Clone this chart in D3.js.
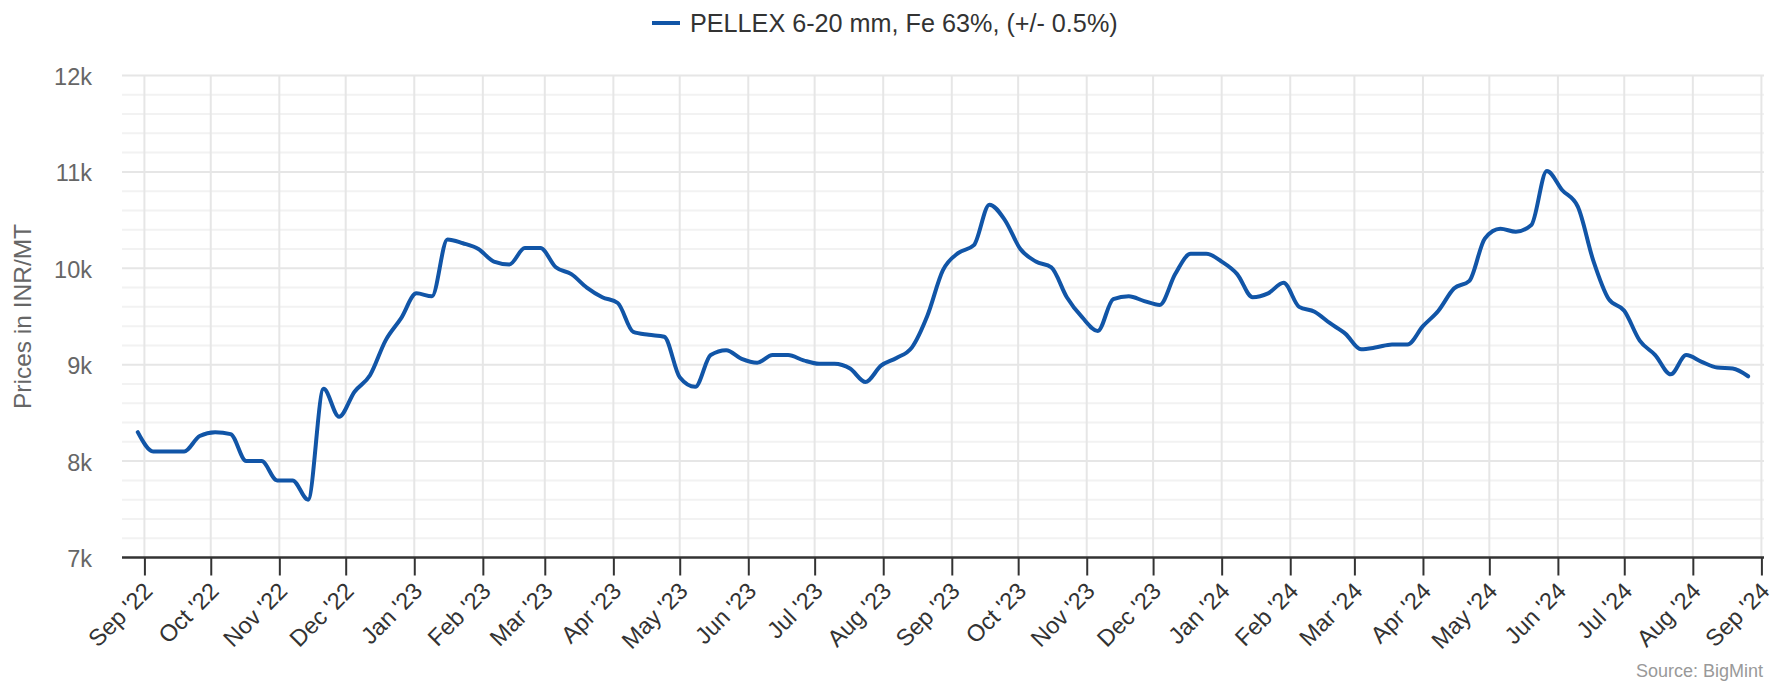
<!DOCTYPE html>
<html>
<head>
<meta charset="utf-8">
<script src="https://cdn.jsdelivr.net/npm/d3@7/dist/d3.min.js"></script>
<style>
  html, body { margin: 0; padding: 0; background: #ffffff; }
  svg { display: block; font-family: "Liberation Sans", Arial, sans-serif; }
</style>
</head>
<body>
<svg id="chart" width="1783" height="684"></svg>
<script>
// ---- data ----
const seriesName = "PELLEX 6-20 mm, Fe 63%, (+/- 0.5%)";
const firstWeek = "2022-08-29";   // weekly observations
const prices = [
  8300, 8100, 8100, 8100, 8260, 8300, 8280, 8000, 8000, 7800,
  7800, 7600, 8750, 8460, 8720, 8890, 9250, 9480, 9740, 9710,
  10300, 10260, 10200, 10070, 10040, 10210, 10210, 10010, 9940, 9800,
  9700, 9640, 9340, 9310, 9290, 8870, 8770, 9100, 9150, 9060,
  9020, 9100, 9100, 9045, 9010, 9010, 8960, 8820, 8990, 9070,
  9180, 9510, 9980, 10160, 10240, 10660, 10500, 10200, 10070, 10010,
  9700, 9490, 9350, 9680, 9710, 9660, 9620, 9940, 10150, 10150,
  10070, 9940, 9700, 9740, 9850, 9600, 9550, 9430, 9320, 9160,
  9180, 9210, 9210, 9400, 9560, 9790, 9870, 10310, 10410, 10380,
  10450, 11010, 10810, 10640, 10080, 9680, 9560, 9250, 9100, 8900,
  9100, 9030, 8970, 8960, 8880
];
const monthTicks = [
  "2022-09-01","2022-10-01","2022-11-01","2022-12-01","2023-01-01","2023-02-01",
  "2023-03-01","2023-04-01","2023-05-01","2023-06-01","2023-07-01","2023-08-01",
  "2023-09-01","2023-10-01","2023-11-01","2023-12-01","2024-01-01","2024-02-01",
  "2024-03-01","2024-04-01","2024-05-01","2024-06-01","2024-07-01","2024-08-01",
  "2024-09-01"
];
const yMajorTicks = [7000, 8000, 9000, 10000, 11000, 12000];
const yMinorStep = 200;
const yTitle = "Prices in INR/MT";
const sourceText = "Source: BigMint";

// ---- layout ----
const W = 1783, H = 684;
const plot = { left: 122, right: 1764, top: 75.5, bottom: 557.5 };
const lineColor = "#1155a7";

const svg = d3.select("#chart");
const parse = d3.utcParse("%Y-%m-%d");
const start = parse(firstWeek);
const data = prices.map((v, i) => ({ date: d3.utcDay.offset(start, 7 * i), value: v }));
const tickDates = monthTicks.map(parse);

// x scale: first and last month ticks anchored, then domain extended to the plot edges
const x = d3.scaleUtc()
  .domain([tickDates[0], tickDates[tickDates.length - 1]])
  .range([144.4, 1761.4]);
x.domain([x.invert(plot.left), x.invert(plot.right)]).range([plot.left, plot.right]);

const y = d3.scaleLinear().domain([7000, 12000]).range([plot.bottom, plot.top]);

// minor horizontal grid
const minor = d3.range(7000, 12000 + 1, yMinorStep).filter(v => !yMajorTicks.includes(v));
svg.append("g").selectAll("line").data(minor).join("line")
  .attr("x1", plot.left).attr("x2", plot.right)
  .attr("y1", d => y(d)).attr("y2", d => y(d))
  .attr("stroke", "#f2f2f2").attr("stroke-width", 2);

// major horizontal grid
svg.append("g").selectAll("line").data(yMajorTicks.filter(v => v !== 7000)).join("line")
  .attr("x1", plot.left).attr("x2", plot.right)
  .attr("y1", d => y(d)).attr("y2", d => y(d))
  .attr("stroke", "#e6e6e6").attr("stroke-width", 2);

// vertical grid
svg.append("g").selectAll("line").data(tickDates).join("line")
  .attr("x1", d => x(d)).attr("x2", d => x(d))
  .attr("y1", plot.top).attr("y2", plot.bottom)
  .attr("stroke", "#e6e6e6").attr("stroke-width", 2);

// y axis labels
const yAxis = d3.axisLeft(y).tickValues(yMajorTicks).tickSize(0).tickPadding(0)
  .tickFormat(d => (d / 1000) + "k");
const gy = svg.append("g").attr("transform", `translate(92,0)`).call(yAxis);
gy.select(".domain").remove();
gy.selectAll("text")
  .attr("font-size", 23.5).attr("fill", "#666666")
  .attr("font-family", "'Liberation Sans', Arial, sans-serif")
  .attr("dy", "0.38em");

// y title
svg.append("text")
  .attr("transform", `translate(31,${(plot.top + plot.bottom) / 2}) rotate(-90)`)
  .attr("text-anchor", "middle")
  .attr("font-size", 24.5).attr("fill", "#666666")
  .text(yTitle);

// x axis
const xAxis = d3.axisBottom(x).tickValues(tickDates).tickSize(18).tickSizeOuter(0)
  .tickFormat(d3.utcFormat("%b '%y"));
const gx = svg.append("g").attr("transform", `translate(0,${plot.bottom})`).call(xAxis);
gx.select(".domain").attr("stroke", "#333333").attr("stroke-width", 2.5)
  .attr("d", `M${plot.left},0H${plot.right}`);
gx.selectAll(".tick line").attr("stroke", "#333333").attr("stroke-width", 2);
gx.selectAll(".tick text")
  .attr("font-size", 23.5).attr("fill", "#333333")
  .attr("font-family", "'Liberation Sans', Arial, sans-serif")
  .attr("text-anchor", "end")
  .attr("y", 0).attr("dy", 0)
  .attr("transform", "translate(9,35) rotate(-45)");

// series line
const line = d3.line()
  .x(d => x(d.date)).y(d => y(d.value))
  .curve(d3.curveMonotoneX);
svg.append("path").datum(data)
  .attr("d", line)
  .attr("fill", "none")
  .attr("stroke", lineColor)
  .attr("stroke-width", 4)
  .attr("stroke-linejoin", "round")
  .attr("stroke-linecap", "round");

// legend
const lg = svg.append("g").attr("transform", "translate(652,23)");
lg.append("line").attr("x1", 0).attr("x2", 28).attr("y1", 0).attr("y2", 0)
  .attr("stroke", lineColor).attr("stroke-width", 4);
lg.append("text").attr("x", 38).attr("y", 0).attr("dy", "0.36em")
  .attr("font-size", 25.2).attr("fill", "#333333")
  .text(seriesName);

// source credit
svg.append("text")
  .attr("x", 1763).attr("y", 677)
  .attr("text-anchor", "end")
  .attr("font-size", 18).attr("fill", "#999999")
  .text(sourceText);
</script>
</body>
</html>
